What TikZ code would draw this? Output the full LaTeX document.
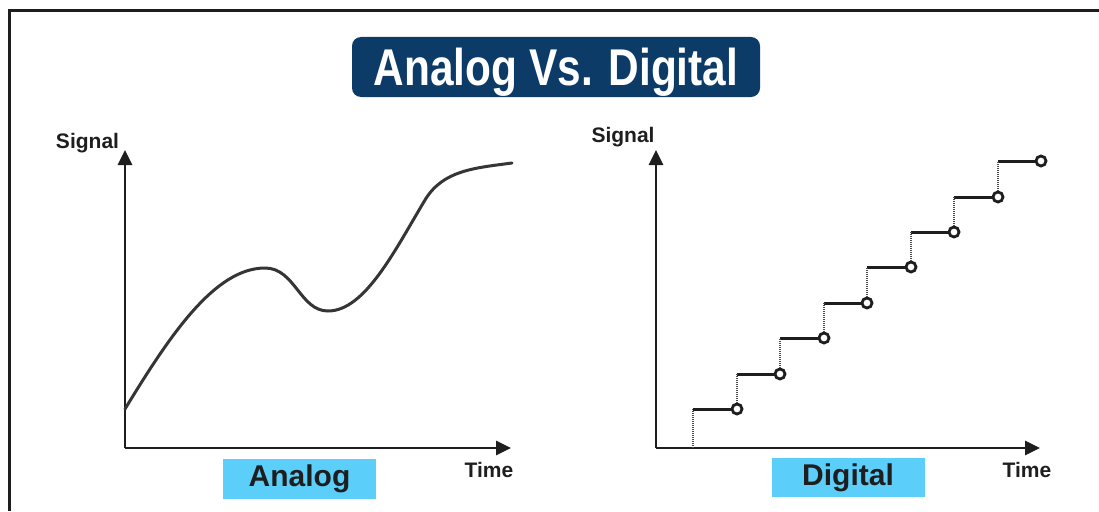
\documentclass[tikz,border=0pt]{standalone}
\usepackage{fontspec}
\setmainfont{Liberation Sans}
\newfontfamily\headfont{Liberation Sans}[FakeStretch=0.82]
\usetikzlibrary{arrows.meta}

\definecolor{navy}{RGB}{13,59,104}
\definecolor{skyblue}{RGB}{91,207,250}
\definecolor{ink}{RGB}{30,30,30}

\tikzset{
  axisline/.style={line width=2.8pt, draw=ink, -{Triangle[length=15pt,width=14pt]}},
  wave/.style={line width=3pt, draw=ink!90, line cap=round},
  level/.style={line width=3pt, draw=ink},
  jump/.style={line width=2.4pt, draw=ink!80, dash pattern=on 1pt off 1pt},
  sampledot/.style={circle, draw=ink, fill=white, line width=2.8pt, minimum size=10pt, inner sep=0pt},
  axislabel/.style={font=\bfseries\fontsize{21}{21}\selectfont, text=ink, inner sep=0pt, anchor=base},
  nametag/.style={fill=skyblue, minimum width=153pt, minimum height=40pt, inner sep=0pt,
    text height=21.5pt, text depth=6pt, font=\bfseries\fontsize{30}{30}\selectfont, text=ink},
  banner/.style={fill=navy, rounded corners=9pt, minimum width=408pt, minimum height=60pt, inner sep=0pt,
    text height=37pt, text depth=0pt, font=\headfont\bfseries\fontsize{51.7}{52}\selectfont, text=white}
}

\begin{document}
\begin{tikzpicture}[x=1pt, y=-1pt]

\useasboundingbox (0,0) rectangle (1099,511);
\draw[line width=3pt, draw=ink] (9.5,511) -- (9.5,11) -- (1099,11);

\node[banner] (title) at (556,67) {Analog Vs. Digital};

% analog
\coordinate (ao) at (125,448);
\coordinate (atop) at (125,150);
\coordinate (aright) at (511,448);
\draw[axisline] (ao) -- (atop);
\draw[axisline] (ao) -- (aright);
\node[axislabel] (asig) at (87.5,148) {Signal};
\node[axislabel] (atime) at (489,477) {Time};
\node[nametag] (analog) at (299.5,479) {Analog};

\draw[wave] (125,409) .. controls (170,335) and (215,268) .. (265,268)
  .. controls (295,268) and (300,311) .. (328,311)
  .. controls (365,311) and (395,250) .. (425,200)
  .. controls (443,170) and (475,168) .. (512,163);

% digital
\coordinate (do) at (656,448);
\coordinate (dtop) at (656,150);
\coordinate (dright) at (1040,448);
\draw[axisline] (do) -- (dtop);
\draw[axisline] (do) -- (dright);
\node[axislabel] (dsig) at (623,142) {Signal};
\node[axislabel] (dtime) at (1027,477) {Time};
\node[nametag, minimum height=39pt] (digital) at (848,477.5) {Digital};

\coordinate (b0) at (693,448);
\foreach \k in {0,...,7}
  \coordinate (c\k) at ({round(693+43.5*\k)}, {round(409-35.4*\k)});
\foreach \k in {1,...,8}
  \node[sampledot] (d\k) at ({round(693+43.5*\k)}, {round(444.4-35.4*\k)}) {};

\draw[jump] (b0) -- (c0);
\foreach \k [remember=\k as \j (initially 0)] in {1,...,8}
  \draw[level] (c\j) -- (c\j -| d\k.west);
\foreach \k in {1,...,7}
  \draw[jump] (d\k) -- (c\k);

\end{tikzpicture}
\end{document}
